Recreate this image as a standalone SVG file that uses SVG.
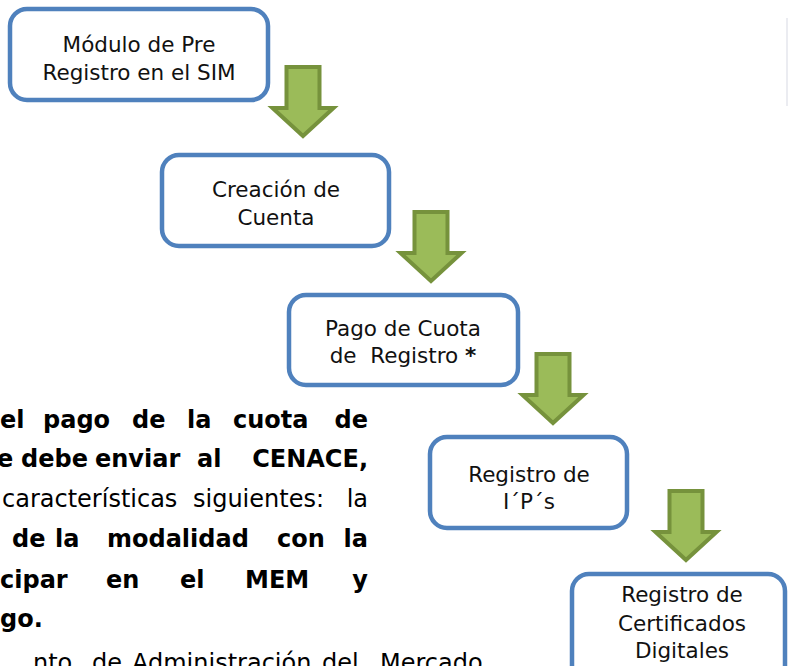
<svg xmlns="http://www.w3.org/2000/svg" width="788" height="666" viewBox="0 0 788 666">
<style>
.box{fill:#fff;stroke:#4F81BD;stroke-width:4.5}
.lbl{font-family:"DejaVu Sans","Liberation Sans",sans-serif;font-size:21.5px;fill:#111;text-anchor:middle}
.arr{fill:#9BBB59;stroke:#76923C;stroke-width:4;stroke-linejoin:miter}
.b{font-family:"DejaVu Sans","Liberation Sans",sans-serif;font-size:24px;font-weight:bold;fill:#000}
.r{font-family:"DejaVu Sans","Liberation Sans",sans-serif;font-size:24px;fill:#000}
.e{text-anchor:end}
</style>
<defs>
<path id="blk" d="M -16.5,0 H 16.5 V 41 H 30.5 L 0,69 L -30.5,41 H -16.5 Z"/>
</defs>
<rect width="788" height="666" fill="#fff"/>
<line x1="787" y1="18" x2="787" y2="106" stroke="#e4e6ec" stroke-width="1.5"/>
<g id="body-text">
<text class="b" y="428"><tspan x="0">el</tspan><tspan x="43">pago</tspan><tspan x="132">de</tspan><tspan x="187">la</tspan><tspan x="233">cuota</tspan><tspan x="368" class="e">de</tspan></text>
<text class="b" y="467"><tspan x="-3">e</tspan><tspan x="21">debe</tspan><tspan x="95">enviar</tspan><tspan x="197">al</tspan><tspan x="368" class="e">CENACE,</tspan></text>
<text class="r" y="507"><tspan x="2">características</tspan><tspan x="193">siguientes:</tspan><tspan x="368" class="e">la</tspan></text>
<text class="b" y="547"><tspan x="12">de</tspan><tspan x="55">la</tspan><tspan x="107">modalidad</tspan><tspan x="277">con</tspan><tspan x="368" class="e">la</tspan></text>
<text class="b" y="588"><tspan x="0">cipar</tspan><tspan x="106">en</tspan><tspan x="180">el</tspan><tspan x="245">MEM</tspan><tspan x="368" class="e">y</tspan></text>
<text class="b" y="627"><tspan x="0">go.</tspan></text>
<text class="r" y="671" font-size="22"><tspan x="33">nto</tspan><tspan x="92">de</tspan><tspan x="132">Administración</tspan><tspan x="322">del</tspan><tspan x="380">Mercado</tspan></text>
</g>
<g id="connectors">
<use href="#blk" class="arr" transform="translate(303,67)"/>
<use href="#blk" class="arr" transform="translate(431,212)"/>
<use href="#blk" class="arr" transform="translate(553,354)"/>
<use href="#blk" class="arr" transform="translate(686,491)"/>
</g>
<g id="n1"><rect class="box" x="10" y="9" width="258" height="91" rx="17"/>
<text class="lbl" x="139" y="52">Módulo de Pre</text><text class="lbl" x="139" y="80">Registro en el SIM</text></g>
<g id="n2"><rect class="box" x="162" y="155" width="227" height="91" rx="17"/>
<text class="lbl" x="276" y="197">Creación de</text><text class="lbl" x="276" y="225">Cuenta</text></g>
<g id="n3"><rect class="box" x="289" y="295" width="229" height="90" rx="17"/>
<text class="lbl" x="403" y="336">Pago de Cuota</text><text class="lbl" x="403" y="363" xml:space="preserve">de  Registro <tspan font-weight="bold">*</tspan></text></g>
<g id="n4"><rect class="box" x="430" y="437" width="197" height="91" rx="17"/>
<text class="lbl" x="529" y="482">Registro de</text><text class="lbl" x="529" y="509">I´P´s</text></g>
<g id="n5"><rect class="box" x="572" y="574" width="213" height="110" rx="17"/>
<text class="lbl" x="682" y="602">Registro de</text><text class="lbl" x="682" y="631">Certificados</text><text class="lbl" x="682" y="658">Digitales</text></g>
</svg>
